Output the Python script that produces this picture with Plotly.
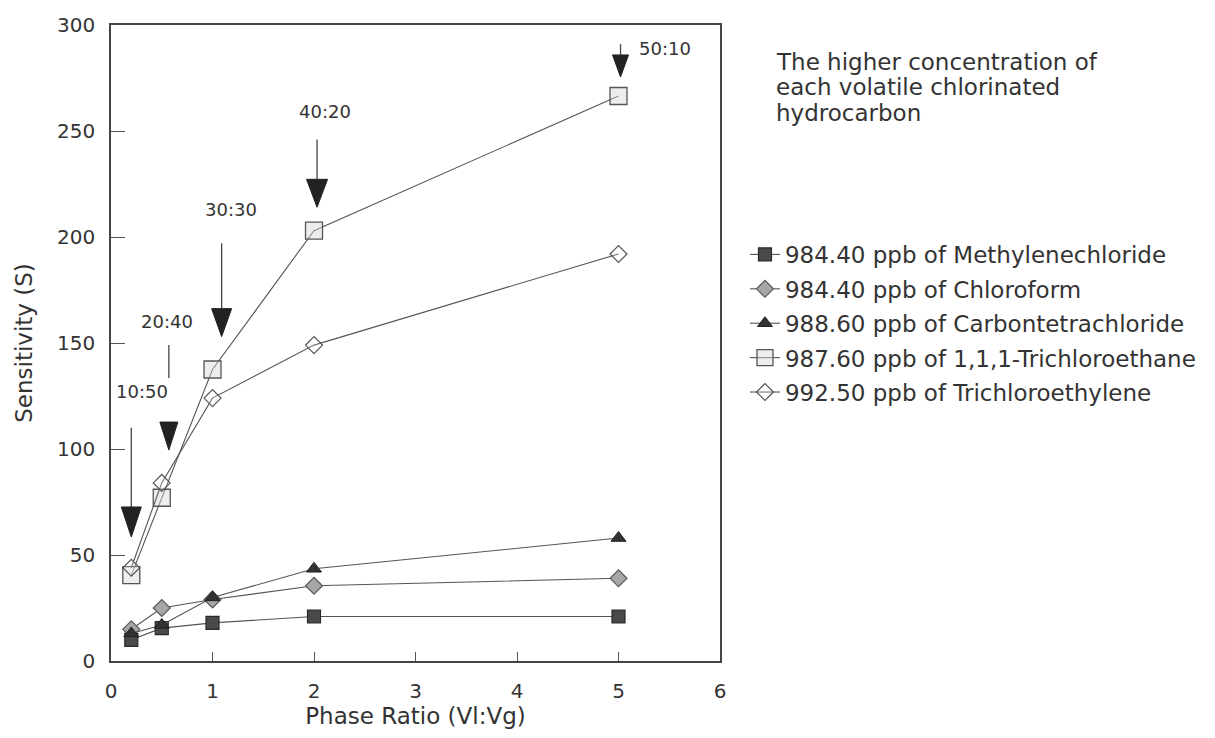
import plotly.graph_objects as go

# Phase ratio (Vl:Vg) for each headspace setting
phase_ratio = [0.2, 0.5, 1, 2, 5]
ratio_labels = ["10:50", "20:40", "30:30", "40:20", "50:10"]

# Sensitivity (S) per compound
methylenechloride = [10, 15.5, 18, 21, 21]
chloroform = [15, 25, 29, 35.5, 39]
carbontetrachloride = [13, 17, 30, 43.5, 58]
trichloroethane = [40.5, 77, 137.5, 203, 266.5]
trichloroethylene = [44, 84, 124, 149, 192]

series_names = [
    "984.40 ppb of Methylenechloride",
    "984.40 ppb of Chloroform",
    "988.60 ppb of Carbontetrachloride",
    "987.60 ppb of 1,1,1-Trichloroethane",
    "992.50 ppb of Trichloroethylene",
]
series_values = [methylenechloride, chloroform, carbontetrachloride,
                 trichloroethane, trichloroethylene]

x_ticks = [0, 1, 2, 3, 4, 5, 6]
y_ticks = [0, 50, 100, 150, 200, 250, 300]

FONT = "DejaVu Sans"
INK = "#333333"
LINE = "#555555"

marker_styles = [
    dict(symbol="square", size=13, color="#4a4a4a", line=dict(color="#2a2a2a", width=1.2)),
    dict(symbol="diamond", size=13, color="#a6a6a6", line=dict(color="#5a5a5a", width=1.2)),
    dict(symbol="triangle-up", size=13, color="#333333", line=dict(color="#222222", width=1)),
    dict(symbol="square", size=17, color="rgba(215,215,215,0.45)", line=dict(color="#555555", width=1.3)),
    dict(symbol="diamond", size=13, color="rgba(255,255,255,0.2)", line=dict(color="#555555", width=1.2)),
]

fig = go.Figure()
for i, (name, vals, mk) in enumerate(zip(series_names, series_values, marker_styles)):
    fig.add_trace(go.Scatter(
        x=phase_ratio, y=vals, name=name, mode="lines+markers",
        line=dict(color=LINE, width=1.1), marker=mk,
        legendgroup=f"g{i}",
    ))

# Callout arrows marking the Vl:Vg setting at each phase ratio
callout_label_pos = [(0.31, 127), (0.55, 160), (1.18, 213), (2.11, 259), (5.46, 289)]
callout_shafts = [[(110, 72.5)], [(149, 133.5)], [(197, 166)], [(246, 227)], [(291, 285)]]
callout_x = [0.2, 0.57, 1.09, 2.03, 5.02]
callout_tip = [58.5, 99.5, 153, 214, 275.5]
head_size = [(20, 30), (18, 28), (20, 28), (21, 28), (16, 22)]

shapes = []
annotations = []
for lab, (lx, ly), shafts, ax, tip, (hw, hh) in zip(
        ratio_labels, callout_label_pos, callout_shafts, callout_x, callout_tip, head_size):
    annotations.append(dict(
        x=lx, y=ly, xref="x", yref="y", text=lab, showarrow=False,
        font=dict(family=FONT, size=18, color=INK)))
    for y0, y1 in shafts:
        shapes.append(dict(type="line", xref="x", yref="y", x0=ax, x1=ax, y0=y0, y1=y1,
                           line=dict(color="#444444", width=1.3)))
    shapes.append(dict(
        type="path", xref="x", yref="y", xsizemode="pixel", ysizemode="pixel",
        xanchor=ax, yanchor=tip,
        path=f"M {-hw/2} {hh} L {hw/2} {hh} L 0 0 Z",
        fillcolor="#222222", line=dict(color="#222222", width=1)))

title_lines = ["The higher concentration of", "each volatile chlorinated", "hydrocarbon"]
for k, t in enumerate(title_lines):
    annotations.append(dict(
        x=1.0887, y=0.942 - k * 0.04, xref="paper", yref="paper", xanchor="left",
        yanchor="middle", text=t, showarrow=False,
        font=dict(family=FONT, size=23, color=INK)))

axis_common = dict(
    showline=True, linecolor="#444444", linewidth=1.5, mirror=True,
    ticks="inside", tickcolor="#555555", tickwidth=1.2,
    showgrid=False, zeroline=False,
    tickfont=dict(family=FONT, size=20, color=INK),
)

fig.update_layout(
    width=1215, height=738,
    margin=dict(l=111, r=495, t=25, b=77),
    paper_bgcolor="white", plot_bgcolor="white",
    font=dict(family=FONT, color=INK),
    xaxis=dict(range=[0, 6], tickvals=x_ticks, ticklen=9,
               title=dict(text="Phase Ratio (Vl:Vg)", font=dict(family=FONT, size=23, color=INK), standoff=0),
               ticklabelstandoff=11, **axis_common),
    yaxis=dict(range=[0, 300], tickvals=y_ticks, ticklen=14,
               title=dict(text="Sensitivity (S)", font=dict(family=FONT, size=23, color=INK), standoff=18),
               ticklabelstandoff=10, **axis_common),
    legend=dict(x=1.041, y=0.673, xanchor="left", yanchor="top",
                font=dict(family=FONT, size=23, color=INK),
                tracegroupgap=1.5, bgcolor="rgba(0,0,0,0)"),
    shapes=shapes, annotations=annotations,
)

fig.write_html("out.html")
